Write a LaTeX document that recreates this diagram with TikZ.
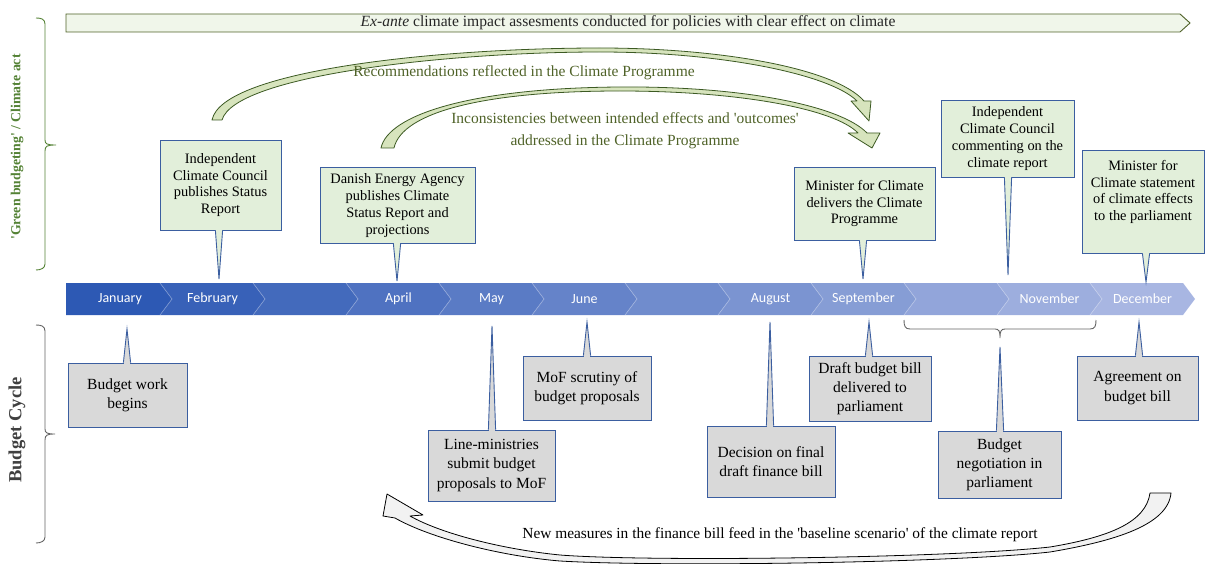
\documentclass[tikz,border=0pt]{standalone}
\usepackage{fontspec}
\setmainfont{Liberation Serif}
\newfontfamily\calfont{Carlito}
\definecolor{boxblue}{RGB}{59,94,160}
\definecolor{gboxfill}{RGB}{226,239,218}
\definecolor{bboxfill}{RGB}{217,217,217}
\definecolor{garrowfill}{RGB}{215,228,189}
\definecolor{garrowdraw}{RGB}{60,90,35}
\definecolor{bannerfill}{RGB}{240,246,234}
\definecolor{bannerdraw}{RGB}{79,98,40}
\definecolor{greentext}{RGB}{79,98,40}
\definecolor{labelgreen}{RGB}{84,130,53}
\definecolor{labelgray}{RGB}{64,64,64}
\definecolor{bracegray}{RGB}{100,100,100}
\definecolor{tlL}{RGB}{45,89,180}
\definecolor{tlR}{RGB}{168,182,226}
\definecolor{arrowgray}{RGB}{242,242,242}
\begin{document}
\begin{tikzpicture}[x=1pt,y=-1pt,
  boxline/.style={draw=boxblue,line width=0.9pt},
  gbox/.style={boxline,fill=gboxfill,inner sep=0pt,align=center,font=\fontsize{14.4}{16.8}\selectfont},
  bbox/.style={boxline,fill=bboxfill,inner sep=0pt,align=center,font=\fontsize{15.5}{19.2}\selectfont},
  garrow/.style={fill=garrowfill,draw=garrowdraw,line width=0.8pt,line join=round},
  barrow/.style={fill=arrowgray,draw=black,line width=0.8pt,line join=round},
  greenlabel/.style={text=greentext,font=\fontsize{15.5}{22}\selectfont,align=center},
  month/.style={text=white,font=\calfont\fontsize{14}{16}\selectfont},
  sidelabel/.style={rotate=90},
  bracestyle/.style={line width=0.9pt}
]
\useasboundingbox (0,0) rectangle (1206,564);

% ---- top banner
\filldraw[fill=bannerfill,draw=bannerdraw,line width=0.9pt] (66,14) -- (1180,14) -- (1190,23) -- (1180,32) -- (66,32) -- cycle;
\node[text=black!85,font=\fontsize{15.6}{18}\selectfont] (banner) at (628,23) {\textit{Ex-ante} climate impact assesments conducted for policies with clear effect on climate};

% ---- side labels and braces
\node[sidelabel,text=labelgreen,font=\bfseries\fontsize{13.8}{16}\selectfont] (gl) at (17,147) {\textquotesingle Green budgeting\textquotesingle{} / Climate act};
\node[sidelabel,text=labelgray,font=\bfseries\fontsize{18.5}{20}\selectfont] (bl) at (17,430) {Budget Cycle};
\draw[bracestyle,draw=labelgreen] (36,18) .. controls (41,18) and (45,19) .. (45,24) -- (45,140) .. controls (45,144) and (47,145) .. (56,145) .. controls (47,145) and (45,146) .. (45,151) -- (45,264) .. controls (45,268) and (41,270) .. (36,270);
\draw[bracestyle,draw=bracegray] (36,325) .. controls (41,325) and (45,326) .. (45,331) -- (45,429) .. controls (45,433) and (47,434) .. (55,434) .. controls (47,434) and (45,435) .. (45,440) -- (45,537) .. controls (45,541) and (41,543) .. (36,543);

% ---- timeline chevrons
\foreach \i in {0,...,11}{
  \pgfmathsetmacro\xa{\i==0 ? 66 : 160+93*(\i-1)}
  \pgfmathsetmacro\xb{160+93*\i}
  \pgfmathsetmacro\p{100*\i/11}
  \ifnum\i=0
    \fill[tlR!\p!tlL] (\xa,283) -- (\xb,283) -- (\xb+12,299) -- (\xb,315) -- (\xa,315) -- cycle;
  \else
    \fill[tlR!\p!tlL] (\xa,283) -- (\xb,283) -- (\xb+12,299) -- (\xb,315) -- (\xa,315) -- (\xa+12,299) -- cycle;
    \draw[white,opacity=0.25,line width=0.8pt] (\xa,283) -- (\xa+12,299) -- (\xa,315);
  \fi
}
\foreach \i/\name in {1/February,3/April,4/May,5/June,7/August,8/September,10/November,11/December}{
  \node[month] (m\i) at (160+93*\i-93+52.5,299) {\name};
}
\node[month] (m0) at (120,299) {January};

% ---- green curved arrows
\filldraw[garrow] (212,120) .. controls (222,70) and (440,48) .. (600,48) .. controls (720,48) and (835,68) .. (864,101)
  -- (871,101) -- (869,121) -- (851,101) -- (857,101)
  .. controls (830,74) and (720,52) .. (600,52) .. controls (450,52) and (235,75) .. (222,120) -- cycle;
\filldraw[garrow] (381,148) .. controls (388,115) and (470,88) .. (620,87) .. controls (740,86) and (840,105) .. (867,133)
  -- (880,133) -- (872,148) -- (848,133) -- (858,133)
  .. controls (835,109) and (740,91) .. (620,91) .. controls (485,91) and (402,112) .. (394,148) -- cycle;
\node[greenlabel] (rec) at (524,73) {Recommendations reflected in the Climate Programme};
\node[greenlabel] (inc) at (625,131) {Inconsistencies between intended effects and \textquotesingle outcomes\textquotesingle\\addressed in the Climate Programme};

% ---- bottom grey curved arrow
\filldraw[barrow] (1150,493) .. controls (1146,522) and (1110,537) .. (1050,547) .. controls (950,558) and (650,562) .. (560,555) .. controls (500,549) and (440,533) .. (410,516)
  -- (423,515) -- (387,494) -- (383,516) -- (395,518)
  .. controls (430,538) and (500,556) .. (560,561) .. controls (660,567) and (950,563) .. (1050,552) .. controls (1115,541) and (1168,525) .. (1171,493) -- cycle;
\node[font=\fontsize{15.4}{18}\selectfont] (newm) at (780,535) {New measures in the finance bill feed in the \textquotesingle baseline scenario\textquotesingle{} of the climate report};

% ---- top callouts
\node[gbox,minimum width=121pt,minimum height=90pt] (t1) at (220.5,185) {Independent\\Climate Council\\publishes Status\\Report};
\node[gbox,minimum width=155pt,minimum height=76pt] (t2) at (397.5,205.5) {Danish Energy Agency\\publishes Climate\\Status Report and\\projections};
\node[gbox,minimum width=141pt,minimum height=73pt] (t3) at (864.5,203.5) {Minister for Climate\\delivers the Climate\\Programme};
\node[gbox,minimum width=133pt,minimum height=77pt] (t4) at (1007.5,138.5) {Independent\\Climate Council\\commenting on the\\climate report};
\node[gbox,minimum width=122pt,minimum height=103pt] (t5) at (1143,201.5) {};
\node[align=center,font=\fontsize{14.4}{16.8}\selectfont,inner sep=0pt] (t5text) at (1143,192) {Minister for\\Climate statement\\of climate effects\\to the parliament};
\coordinate (t1-tip) at (219,279);
\coordinate (t2-tip) at (397,281);
\coordinate (t3-tip) at (863,279);
\coordinate (t4-tip) at (1008,275);
\coordinate (t5-tip) at (1146,282);
\foreach \n in {t1,t2,t3,t4,t5}{
  \coordinate (\n-b) at (\n-tip |- \n.south);
  \fill[gboxfill] ([xshift=-3.6pt]\n-b) -- (\n-tip) -- ([xshift=3.6pt]\n-b) -- cycle;
  \fill[gboxfill] ([xshift=-3.1pt,yshift=1.2pt]\n-b) rectangle ([xshift=3.1pt,yshift=-0.6pt]\n-b);
  \draw[boxline,line join=miter] ([xshift=-3.6pt]\n-b) -- (\n-tip) -- ([xshift=3.6pt]\n-b);
}

% ---- bottom callouts
\node[bbox,minimum width=119pt,minimum height=64pt] (b1) at (127.5,395) {Budget work\\begins};
\node[bbox,minimum width=127pt,minimum height=71pt] (b2) at (491.5,465.5) {Line-ministries\\submit budget\\proposals to MoF};
\node[bbox,minimum width=128pt,minimum height=64pt] (b3) at (587,388) {MoF scrutiny of\\budget proposals};
\node[bbox,minimum width=128pt,minimum height=71pt] (b4) at (771,461.5) {Decision on final\\draft finance bill};
\node[bbox,minimum width=122pt,minimum height=65pt] (b5) at (870,388.5) {Draft budget bill\\delivered to\\parliament};
\node[bbox,minimum width=123pt,minimum height=67pt] (b6) at (999.5,464.5) {Budget\\negotiation in\\parliament};
\node[bbox,minimum width=121pt,minimum height=64pt] (b7) at (1137.5,388) {Agreement on\\budget bill};
\coordinate (b1-tip) at (127,329);
\coordinate (b2-tip) at (492,326);
\coordinate (b3-tip) at (587,322);
\coordinate (b4-tip) at (770,322);
\coordinate (b5-tip) at (869,322);
\coordinate (b6-tip) at (1000,347);
\coordinate (b7-tip) at (1139,322);
\foreach \n in {b1,b2,b3,b4,b5,b6,b7}{
  \coordinate (\n-b) at (\n-tip |- \n.north);
  \fill[bboxfill] ([xshift=-3.6pt]\n-b) -- (\n-tip) -- ([xshift=3.6pt]\n-b) -- cycle;
  \fill[bboxfill] ([xshift=-3.1pt,yshift=-1.2pt]\n-b) rectangle ([xshift=3.1pt,yshift=0.6pt]\n-b);
  \draw[boxline,line join=miter] ([xshift=-3.6pt]\n-b) -- (\n-tip) -- ([xshift=3.6pt]\n-b);
}

% ---- brace under October-November
\draw[bracestyle,draw=bracegray] (904,320) .. controls (904,326) and (905,329) .. (910,329) -- (995,329) .. controls (999,329) and (1000,331) .. (1000,338) .. controls (1000,331) and (1001,329) .. (1005,329) -- (1090,329) .. controls (1095,329) and (1096,326) .. (1096,320);
\end{tikzpicture}
\end{document}
